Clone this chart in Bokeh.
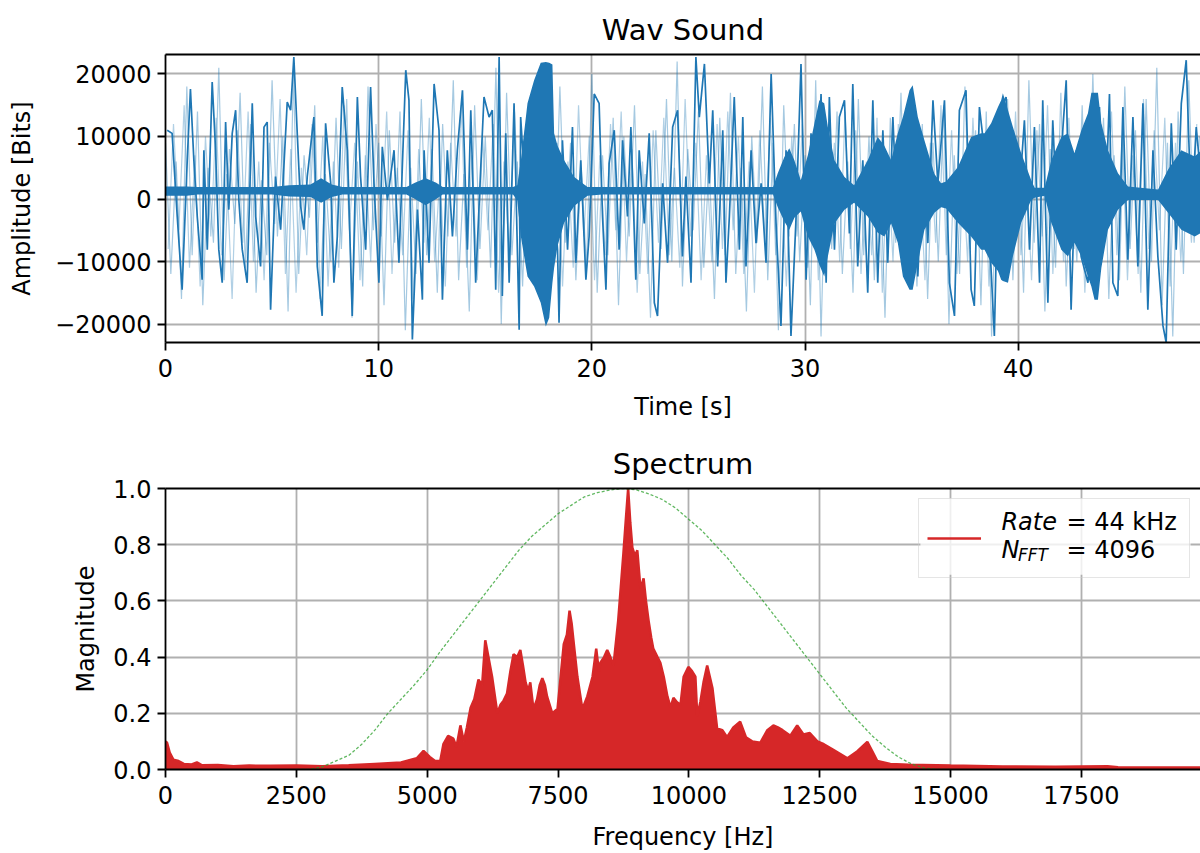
import numpy as np
from bokeh.plotting import figure
from bokeh.layouts import column
from bokeh.models import (Range1d, FixedTicker, LinearAxis, Legend, LegendItem,
                          Label, NumeralTickFormatter, BoxAnnotation)
from bokeh.embed import file_html
from bokeh.resources import INLINE

FONT = "DejaVu Sans"
BLUE = "#1f77b4"
RED = "#d62728"
GREEN = "#2ca02c"

# ---------------- data: waveform ----------------
# thin dark trace (time [s], amplitude)
dark_t = [0.08, 0.31, 0.55, 0.78, 1.02, 1.17, 1.33, 1.49, 1.72, 1.80, 1.96, 2.19, 2.35, 2.50, 2.66,
          2.82, 2.97, 3.13, 3.29, 3.44, 3.60, 3.83, 4.07, 4.23, 4.46, 4.62, 4.77, 4.93, 5.16, 5.40,
          5.71, 5.87, 6.02, 6.18, 6.34, 6.49, 6.65, 6.96, 7.12, 7.35, 7.51, 7.75, 7.90, 8.06, 8.29,
          8.53, 8.76, 9.00, 9.15, 9.39, 9.62, 9.78, 10.01, 10.17, 10.41, 10.72, 10.95, 11.27, 11.42, 11.58,
          11.82, 12.05,
          12.13, 12.36, 12.6, 12.83, 12.99, 13.22, 13.46, 13.69, 13.93, 14.16, 14.32, 14.55, 14.79, 14.94, 15.18,
          15.33, 15.49, 15.65, 15.8, 15.96, 16.12, 16.35, 16.59, 16.66, 17.0, 17.4, 17.8, 18.1, 18.39, 18.46,
          18.62, 18.86, 19.09, 19.25, 19.48, 19.72, 19.87, 20.11, 20.34, 20.5, 20.66, 20.81, 21.05, 21.28, 21.44,
          21.67, 21.83, 22.06, 22.22, 22.46, 22.69, 22.93, 23.08, 23.32, 23.55, 23.79, 24.02, 24.25,
          24.41, 24.65, 24.88, 25.04, 25.28, 25.51, 25.67, 25.9, 26.14, 26.29, 26.45, 26.68, 26.92, 27.08, 27.23,
          27.47, 27.7, 27.94, 28.17, 28.41, 28.64, 28.87, 29.11, 29.34, 29.58, 29.81, 30.05, 30.28, 30.52, 30.75,
          30.99, 31.14, 31.38, 31.61, 31.85, 32.08, 32.24, 32.47, 32.71, 32.94, 33.18, 33.41, 33.65, 33.88, 34.12,
          34.35, 34.59, 34.82, 35.06, 35.29, 35.53, 35.76, 36.0, 36.23,
          36.54, 36.77, 37.01, 37.24, 37.55, 37.79, 37.94, 38.18, 38.41, 38.65, 38.88, 39.12, 39.43, 39.67, 39.98,
          40.29, 40.53, 40.76, 41.0, 41.15, 41.39, 41.62, 41.86, 42.09, 42.25, 42.48, 42.72, 42.95, 43.27, 43.58,
          43.81, 44.05, 44.28, 44.44, 44.67, 44.91, 45.14, 45.38, 45.61, 45.85, 46.08, 46.32, 46.55, 46.79, 46.94,
          47.18, 47.41, 47.65, 47.88, 48.12, 48.35, 48.59]
dark_v = [11000, 10500, -2800, -14500, 6200, 17600, 6200, -2800, -12900, 7800, -8100, 18700, 7800, -8100, -13400,
          12300, -1700, 10500, 14200, -150, -8100, -13400, 15300, -2800, -10800, 11500, 12300, -17700, 3600, -4900,
          15500, 14200, 22700, 10500, -1200, -4900, 3600, 13100, -10800, -18700, 12100, 2500, -13400, -6000, 17900,
          7800, -18700, 16300, 3600, -8100, 17900, 2500, -13400, 8350, -150, 7800, -10200, 20600, 15800, -22450,
          -1700, -16100,
          7800, -10200, 18400, 11000, -16100, 7800, -6000, 7800, 17400, -8100, 14200, -13400, 5200, 16300, 13100,
          14200, -14500, 22700, -15500, 10500, -13400, 15300, -20900, 13100, -6000, 9000, -8000, 5000, -8100, -19800,
          9400, -8100, 11500, -10200, 6200, -12900, -6000, 16800, 15300, -2800, -14500, 5700, 11000, -8100, 9400,
          -2800, 11500, -12900, 7800, -3900, 10500, -16600, -18700, 2500, -10200, 11500, 14200, -9200,
          3600, -13400, 22700, 13100, 21600, 2500, 14200, -10800, 11000, -13400, -2800, 16300, -8100, 13100, -10800,
          7800, -7050, 2500, -10200, 20000, -3900, -20300, 7800, -21900, -2800, 21600, -12900, 10500, -6000, 16800,
          -13400, 16300, -8100, 13100, 15800, -5500, 18400, -10800, 6200, -15000, 15800, -13400, 11000, -10200, 13100,
          -6000, 10500, -13400, 8900, -12400, 7800, -7050, 15800, 2500,
          15800, -13400, -18700, 14200, 17400, -14500, -17100, 14700, 7800, -6000, -21900, 14200, 16300, -9200, -2800,
          12600, -8100, 11500, -13400, 15800, -16600, 12600, -6000, 11000, 19000, -17700, 7800, -9200, -13400, 2500,
          14700, -6000, 16800, -13400, -15500, 14700, -9700, 13100, -10800, 15300, -17700, 7800, -9200, -20300, -22950,
          12100, -8100, 15300, 22200, -2800, 11500, 2500]

# faint trace A, one value every 0.25 s from 0 s
light_v = [9000, -12000, 6000, -16000, 18000, -9000, 14000, -17000,
           5000, -7000, 21000, -13000, 8000, -4000, 17000, -11000,
           12000, -15000, 3000, -9000, 19000, -6000, 10000, -18000,
           20000, -12000, 7000, -3000, 15000, -16000, 4000, -10000,
           13000, -8000, 16000, -19000, 6000, -14000, 18000, -5000,
           9000, -17000, 11000, -7000, 14000, -21000, 5000, -12000,
           16000, -9000, 8000, -15000, 12000, -6000, 19000, -13000,
           4000, -18000, 15000, -8000, 10000, -11000, 21000, -20000,
           17000, -9000, 6000, -14000, 11000, -5000, 8000, -16000,
           12000, -10000, 18000, -7000, 9000, -13000, 5000, -11000,
           20000, -15000, 7000, -9000, 13000, -17000, 10000, -6000,
           15000, -12000, 4000, -19000, 11000, -8000, 16000, -10000,
           22000, -14000, 8000, -5000, 14000, -11000, 6000, -16000,
           13000, -9000, 17000, -12000, 5000, -18000, 10000, -7000,
           18000, -13000, 9000, -21000, 15000, -6000, 12000, -10000,
           7000, -17000, 19000, -22000, 11000, -8000, 14000, -12000,
           6000, -15000, 16000, -9000, 10000, -13000, 8000, -19000,
           13000, -7000, 17000, -11000, 5000, -14000, 12000, -16000,
           9000, -10000, 15000, -20000, 7000, -12000, 18000, -8000,
           11000, -17000, 14000, -22000, 6000, -9000, 16000, -13000,
           10000, -15000, 19000, -7000, 12000, -18000, 8000, -11000,
           17000, -14000, 5000, -10000, 15000, -12000, 20000, -9000,
           13000, -16000, 7000, -13000, 18000, -8000, 11000, -15000,
           16000, -10000, 21000, -17000, 9000, -22000, 14000, -12000,
           19000, -7000, 10000]
light_t = np.arange(len(light_v)) * 0.25

# faint trace B, one value every 0.25 s from 0.125 s
light2_v = [-8000, 12000, -5000, 15000, -11000, 7000, -14000, 10000,
            -6000, 13000, -9000, 4000, -16000, 11000, -7000, 14000,
            -10000, 6000, -13000, 9000, -4000, 16000, -12000, 8000,
            -15000, 5000, -9000, 12000, -7000, 10000, -14000, 6000,
            -11000, 15000, -5000, 9000, -13000, 7000, -10000, 12000,
            -6000, 14000, -12000, 5000, -9000, 11000, -16000, 8000,
            -7000, 13000, -10000, 4000, -14000, 9000, -6000, 15000,
            -11000, 7000, -13000, 10000, -5000, 12000, -15000, 6000,
            -9000, 14000, -7000, 11000, -12000, 5000, -10000, 13000,
            -8000, 9000, -14000, 6000, -11000, 15000, -6000, 10000,
            -13000, 7000, -9000, 12000, -5000, 14000, -10000, 8000,
            -15000, 6000, -12000, 11000, -7000, 13000, -9000, 5000,
            -11000, 16000, -6000, 9000, -13000, 7000, -10000, 12000,
            -8000, 14000, -5000, 10000, -12000, 6000, -15000, 11000,
            -7000, 13000, -9000, 5000, -14000, 10000, -6000, 12000,
            -11000, 8000, -13000, 15000, -5000, 9000, -10000, 14000,
            -8000, 11000, -12000, 6000, -9000, 13000, -15000, 7000,
            -10000, 12000, -6000, 14000, -11000, 5000, -13000, 9000,
            -7000, 15000, -9000, 11000, -12000, 6000, -10000, 13000,
            -5000, 10000, -14000, 8000, -11000, 12000, -7000, 14000,
            -9000, 6000, -13000, 11000, -6000, 15000, -12000, 7000,
            -10000, 13000, -8000, 9000, -15000, 5000, -11000, 12000,
            -6000, 14000, -9000, 10000, -13000, 7000, -12000, 16000,
            -8000, 11000, -5000, 13000, -14000, 9000, -10000, 6000,
            -7000, 12000]
light2_t = 0.125 + np.arange(len(light2_v)) * 0.25

# dense high-rate part: envelope (time, upper, lower)
band_t = [0.0, 1.0, 1.5, 5.0, 5.8, 6.8, 7.3, 7.8, 8.3, 11.3, 11.7, 12.2, 12.7, 13.0, 16.3,
          16.5, 16.67, 16.98, 17.29, 17.6, 17.84, 18.0, 18.15, 18.23, 18.39, 18.7, 19.17, 19.8, 20.5, 28.5,
          28.72, 29.03, 29.26, 29.5, 29.8, 30.13, 30.44, 30.67, 30.9, 31.07, 31.38, 31.85, 32.3, 32.94, 33.41,
          33.72, 34.04, 34.35, 34.59, 34.9, 35.05, 35.29, 35.6, 36.07, 36.38, 36.62, 37.17, 37.79, 38.26, 38.42,
          38.73, 39.05, 39.2, 39.28, 39.52, 39.75, 40.14, 40.61, 40.77, 41.24, 41.55, 42.02, 42.33, 42.64, 42.96,
          43.27, 43.43, 43.58, 43.74, 43.9, 44.21, 44.68, 45.15, 46.56, 47.03, 47.65, 48.28, 48.59]
band_hi = [2000, 2000, 1900, 1900, 2200, 2300, 3300, 2300, 1900, 1900, 2600, 3300, 2600, 1900, 1900,
           2200, 6200, 15300, 19000, 21800, 21900, 21800, 21500, 10500, 8500, 6200, 3500, 1900, 1900, 1900,
           4100, 6700, 8100, 6200, 3000, 7000, 12100, 15800, 15300, 11500, 6200, 3500, 2200, 6200, 9900,
           8500, 6200, 10500, 13100, 17400, 18200, 13100, 9400, 4000, 2500, 2800, 5100, 9900, 10500, 10500,
           12100, 14700, 15800, 16900, 14200, 11500, 7300, 3000, 1800, 1800, 6200, 9900, 10500, 7300, 11000,
           13700, 17000, 17000, 17000, 12100, 7800, 4100, 2000, 1500, 4700, 7800, 6800, 7800]
band_lo = [500, 500, 700, 700, 400, 300, -600, 300, 700, 700, 0, -1000, 0, 700, 700,
           -200, -6000, -12400, -14000, -16600, -20400, -19000, -13400, -11000, -7500, -3800, -1100, 500, 700, 700,
           -1300, -3600, -4900, -3000, -2000, -6000, -8100, -10500, -12400, -9200, -3900, -1700, -600, -2800, -5400,
           -6000, -3900, -7000, -12400, -14500, -14500, -10200, -4900, -2200, -1300, -1500, -3800, -6000, -8100, -8100,
           -10200, -11500, -12900, -13100, -13400, -9200, -3800, -150, 200, 500, -3800, -8100, -9200, -7000, -9200,
           -12400, -14000, -16100, -16100, -11000, -4900, -1700, -150, -150, -2200, -4900, -6000, -5400]

# ---------------- data: spectrum ----------------
spec_f = [0, 30, 80, 150, 250, 350, 500, 600, 700, 1000, 1300, 1600, 2000, 2500, 3000, 3500, 4000, 4500,
          4800, 4930, 5050, 5150, 5250, 5310, 5400, 5500, 5560, 5635, 5700, 5760, 5830, 5900, 5980, 6050,
          6110, 6170, 6240, 6340, 6400, 6460, 6525, 6590, 6650, 6720, 6780, 6830, 6880, 6930, 6970, 7030,
          7100, 7150, 7200, 7250, 7290, 7390, 7490, 7550, 7610, 7670, 7720, 7760, 7800, 7870, 7965, 8060,
          8160, 8230, 8280, 8310, 8380, 8440, 8500, 8560, 8650, 8700, 8750, 8800, 8840, 8880, 8920, 8970,
          9015, 9050, 9075, 9105, 9135, 9180, 9230, 9280, 9320, 9400, 9455, 9520, 9590, 9650, 9705, 9770,
          9840, 9900, 9990, 10060, 10125, 10160, 10220, 10280, 10350, 10400, 10450, 10540, 10640, 10730,
          10850, 10980, 11090, 11210, 11365, 11500, 11615, 11700, 11790, 11940, 12070, 12190, 12310, 12455,
          12580, 12760, 13030, 13220, 13410, 13505, 13600, 13850, 14200, 15000, 16000, 17000, 18000, 18200,
          19000, 19800]
spec_mag = [0.10, 0.095, 0.06, 0.035, 0.03, 0.02, 0.018, 0.025, 0.015, 0.016, 0.012, 0.014, 0.013, 0.014,
            0.012, 0.015, 0.02, 0.025, 0.04, 0.066, 0.045, 0.03, 0.03, 0.09, 0.12, 0.11, 0.08, 0.157, 0.10,
            0.15, 0.22, 0.25, 0.32, 0.30, 0.46, 0.40, 0.33, 0.20, 0.23, 0.245, 0.27, 0.35, 0.41, 0.40, 0.425,
            0.37, 0.31, 0.28, 0.31, 0.215, 0.25, 0.30, 0.325, 0.30, 0.26, 0.20, 0.215, 0.33, 0.446, 0.48,
            0.565, 0.52, 0.45, 0.33, 0.215, 0.26, 0.33, 0.43, 0.35, 0.38, 0.40, 0.425, 0.40, 0.37, 0.53,
            0.65, 0.77, 0.90, 1.0, 0.88, 0.79, 0.76, 0.78, 0.70, 0.645, 0.66, 0.68, 0.60, 0.53, 0.47,
            0.43, 0.40, 0.38, 0.33, 0.26, 0.22, 0.255, 0.24, 0.23, 0.33, 0.365, 0.35, 0.33, 0.19, 0.24,
            0.31, 0.37, 0.33, 0.29, 0.146, 0.14, 0.115, 0.15, 0.17, 0.115, 0.10, 0.095, 0.14, 0.157, 0.15,
            0.14, 0.12, 0.157, 0.125, 0.13, 0.10, 0.09, 0.07, 0.04, 0.065, 0.098, 0.065, 0.03, 0.02, 0.017,
            0.014, 0.011, 0.01, 0.012, 0.008, 0.007, 0.007]

# band-pass window (green dotted)
win_f = [2500, 2750, 3000, 3250, 3500, 3750, 4000, 4250, 4500, 4750, 5000, 5250, 5500, 5750, 6000,
         6250, 6500, 6750, 7000, 7250, 7500, 7750, 8000, 8250, 8500, 8750, 9000, 9250, 9500, 9750,
         10000, 10250, 10500, 10750, 11000, 11250, 11500, 11750, 12000, 12250, 12500, 12750, 13000,
         13250, 13500, 13750, 14000, 14250, 14500, 14750, 15000]
win_mag = [0.0, 0.0, 0.01, 0.03, 0.05, 0.09, 0.14, 0.20, 0.25, 0.30, 0.355, 0.42, 0.48, 0.54, 0.60,
           0.66, 0.72, 0.78, 0.83, 0.87, 0.91, 0.94, 0.97, 0.985, 0.995, 1.0, 0.995, 0.98, 0.96, 0.93,
           0.89, 0.85, 0.80, 0.75, 0.69, 0.64, 0.58, 0.52, 0.46, 0.40, 0.34, 0.28, 0.22,
           0.17, 0.12, 0.08, 0.045, 0.02, 0.005, 0.0, 0.0]

time_ticks = [0, 10, 20, 30, 40]
amp_ticks = [-20000, -10000, 0, 10000, 20000]
freq_ticks = [0, 2500, 5000, 7500, 10000, 12500, 15000, 17500]
mag_ticks = [0.0, 0.2, 0.4, 0.6, 0.8, 1.0]


def style(p, ylabel_standoff, xlabel_standoff):
    p.title.text_font = FONT
    p.title.text_font_size = "29px"
    p.title.text_font_style = "normal"
    p.title.align = "center"
    p.title.text_color = "black"
    p.title.standoff = 16
    p.outline_line_color = None
    p.background_fill_color = "white"
    p.border_fill_color = "white"
    for ax in list(p.xaxis) + list(p.yaxis):
        ax.axis_label_text_font = FONT
        ax.axis_label_text_font_size = "24px"
        ax.axis_label_text_font_style = "normal"
        ax.axis_label_text_color = "black"
        ax.major_label_text_font = FONT
        ax.major_label_text_font_size = "24px"
        ax.major_label_text_color = "black"
        ax.major_tick_out = 8
        ax.major_tick_in = 0
        ax.minor_tick_line_color = None
        ax.axis_line_width = 1.8
        ax.major_tick_line_width = 1.8
        ax.major_label_standoff = 6
    p.xaxis.major_label_standoff = 8
    p.xaxis.axis_label_standoff = xlabel_standoff
    p.yaxis.axis_label_standoff = ylabel_standoff
    for g in p.grid:
        g.grid_line_color = "#b0b0b0"
        g.grid_line_width = 1.8
    top = LinearAxis(ticker=FixedTicker(ticks=[]), axis_line_width=1.8,
                     major_tick_line_color=None, minor_tick_line_color=None,
                     major_label_text_font_size="0px", major_label_standoff=0)
    p.add_layout(top, "above")


# ---------------- top: waveform ----------------
p1 = figure(width=1200, height=423, title="Wav Sound",
            x_range=Range1d(0, 48.55), y_range=Range1d(-22950, 23110),
            output_backend="svg", toolbar_location=None,
            min_border_left=165, min_border_right=0, min_border_top=54, min_border_bottom=80)
p1.line(light_t, light_v, line_color=BLUE, line_width=1.2, line_alpha=0.4)
p1.line(light2_t, light2_v, line_color=BLUE, line_width=1.2, line_alpha=0.35)
p1.line(dark_t, dark_v, line_color=BLUE, line_width=1.7)
p1.varea(x=band_t, y1=band_lo, y2=band_hi, fill_color=BLUE)
p1.xaxis.ticker = FixedTicker(ticks=time_ticks)
p1.yaxis.ticker = FixedTicker(ticks=amp_ticks)
p1.yaxis.major_label_overrides = {t: (("\u2212" + str(abs(t))) if t < 0 else str(t)) for t in amp_ticks}
p1.xaxis.axis_label = "Time [s]"
p1.yaxis.axis_label = "Amplitude [Bits]"
style(p1, ylabel_standoff=16, xlabel_standoff=13)

# ---------------- bottom: spectrum ----------------
p2 = figure(width=1200, height=430, title="Spectrum",
            x_range=Range1d(0, 19776), y_range=Range1d(0, 1.0),
            output_backend="svg", toolbar_location=None,
            min_border_left=165, min_border_right=0, min_border_top=65, min_border_bottom=78)

# translucent white legend backdrop (below the legend texts)
p2.add_layout(BoxAnnotation(left=14424, right=19586, top=0.965, bottom=0.693,
                            fill_color="white", fill_alpha=0.8, line_color=None,
                            level="underlay"))

p2.varea(x=spec_f, y1=0, y2=spec_mag, fill_color=RED)
spec_line = p2.line(spec_f, spec_mag, line_color=RED, line_width=2.5)
p2.line(win_f, win_mag, line_color=GREEN, line_width=1.3, line_alpha=0.75, line_dash="3 2")
p2.xaxis.ticker = FixedTicker(ticks=freq_ticks)
p2.yaxis.ticker = FixedTicker(ticks=mag_ticks)
p2.yaxis.formatter = NumeralTickFormatter(format="0.0")
p2.xaxis.axis_label = "Frequency [Hz]"
p2.yaxis.axis_label = "Magnitude"
style(p2, ylabel_standoff=10, xlabel_standoff=16)

legend = Legend(items=[LegendItem(label=" ", renderers=[spec_line])],
                location="top_right", margin=10, padding=8, spacing=0,
                glyph_width=54, glyph_height=62, label_width=181, label_height=62,
                label_standoff=19, border_line_color="#cccccc", border_line_width=1.5,
                background_fill_alpha=0.0, label_text_font_size="1px")
p2.add_layout(legend)

lab_kw = dict(text_font=FONT, text_font_size="24px", text_baseline="alphabetic",
              text_align="left", text_color="black")
p2.add_layout(Label(x=15972, y=0.881, text="Rate", text_font_style="italic", **lab_kw))
p2.add_layout(Label(x=17215, y=0.881, text="= 44 kHz", **lab_kw))
p2.add_layout(Label(x=15972, y=0.780, text="N", text_font_style="italic", **lab_kw))
p2.add_layout(Label(x=16290, y=0.763, text="FFT", text_font_style="italic",
                    **{**lab_kw, "text_font_size": "17px"}))
p2.add_layout(Label(x=17215, y=0.780, text="= 4096", **lab_kw))

layout = column(p1, p2, spacing=0)
open("out.html", "w").write(file_html(layout, INLINE))
